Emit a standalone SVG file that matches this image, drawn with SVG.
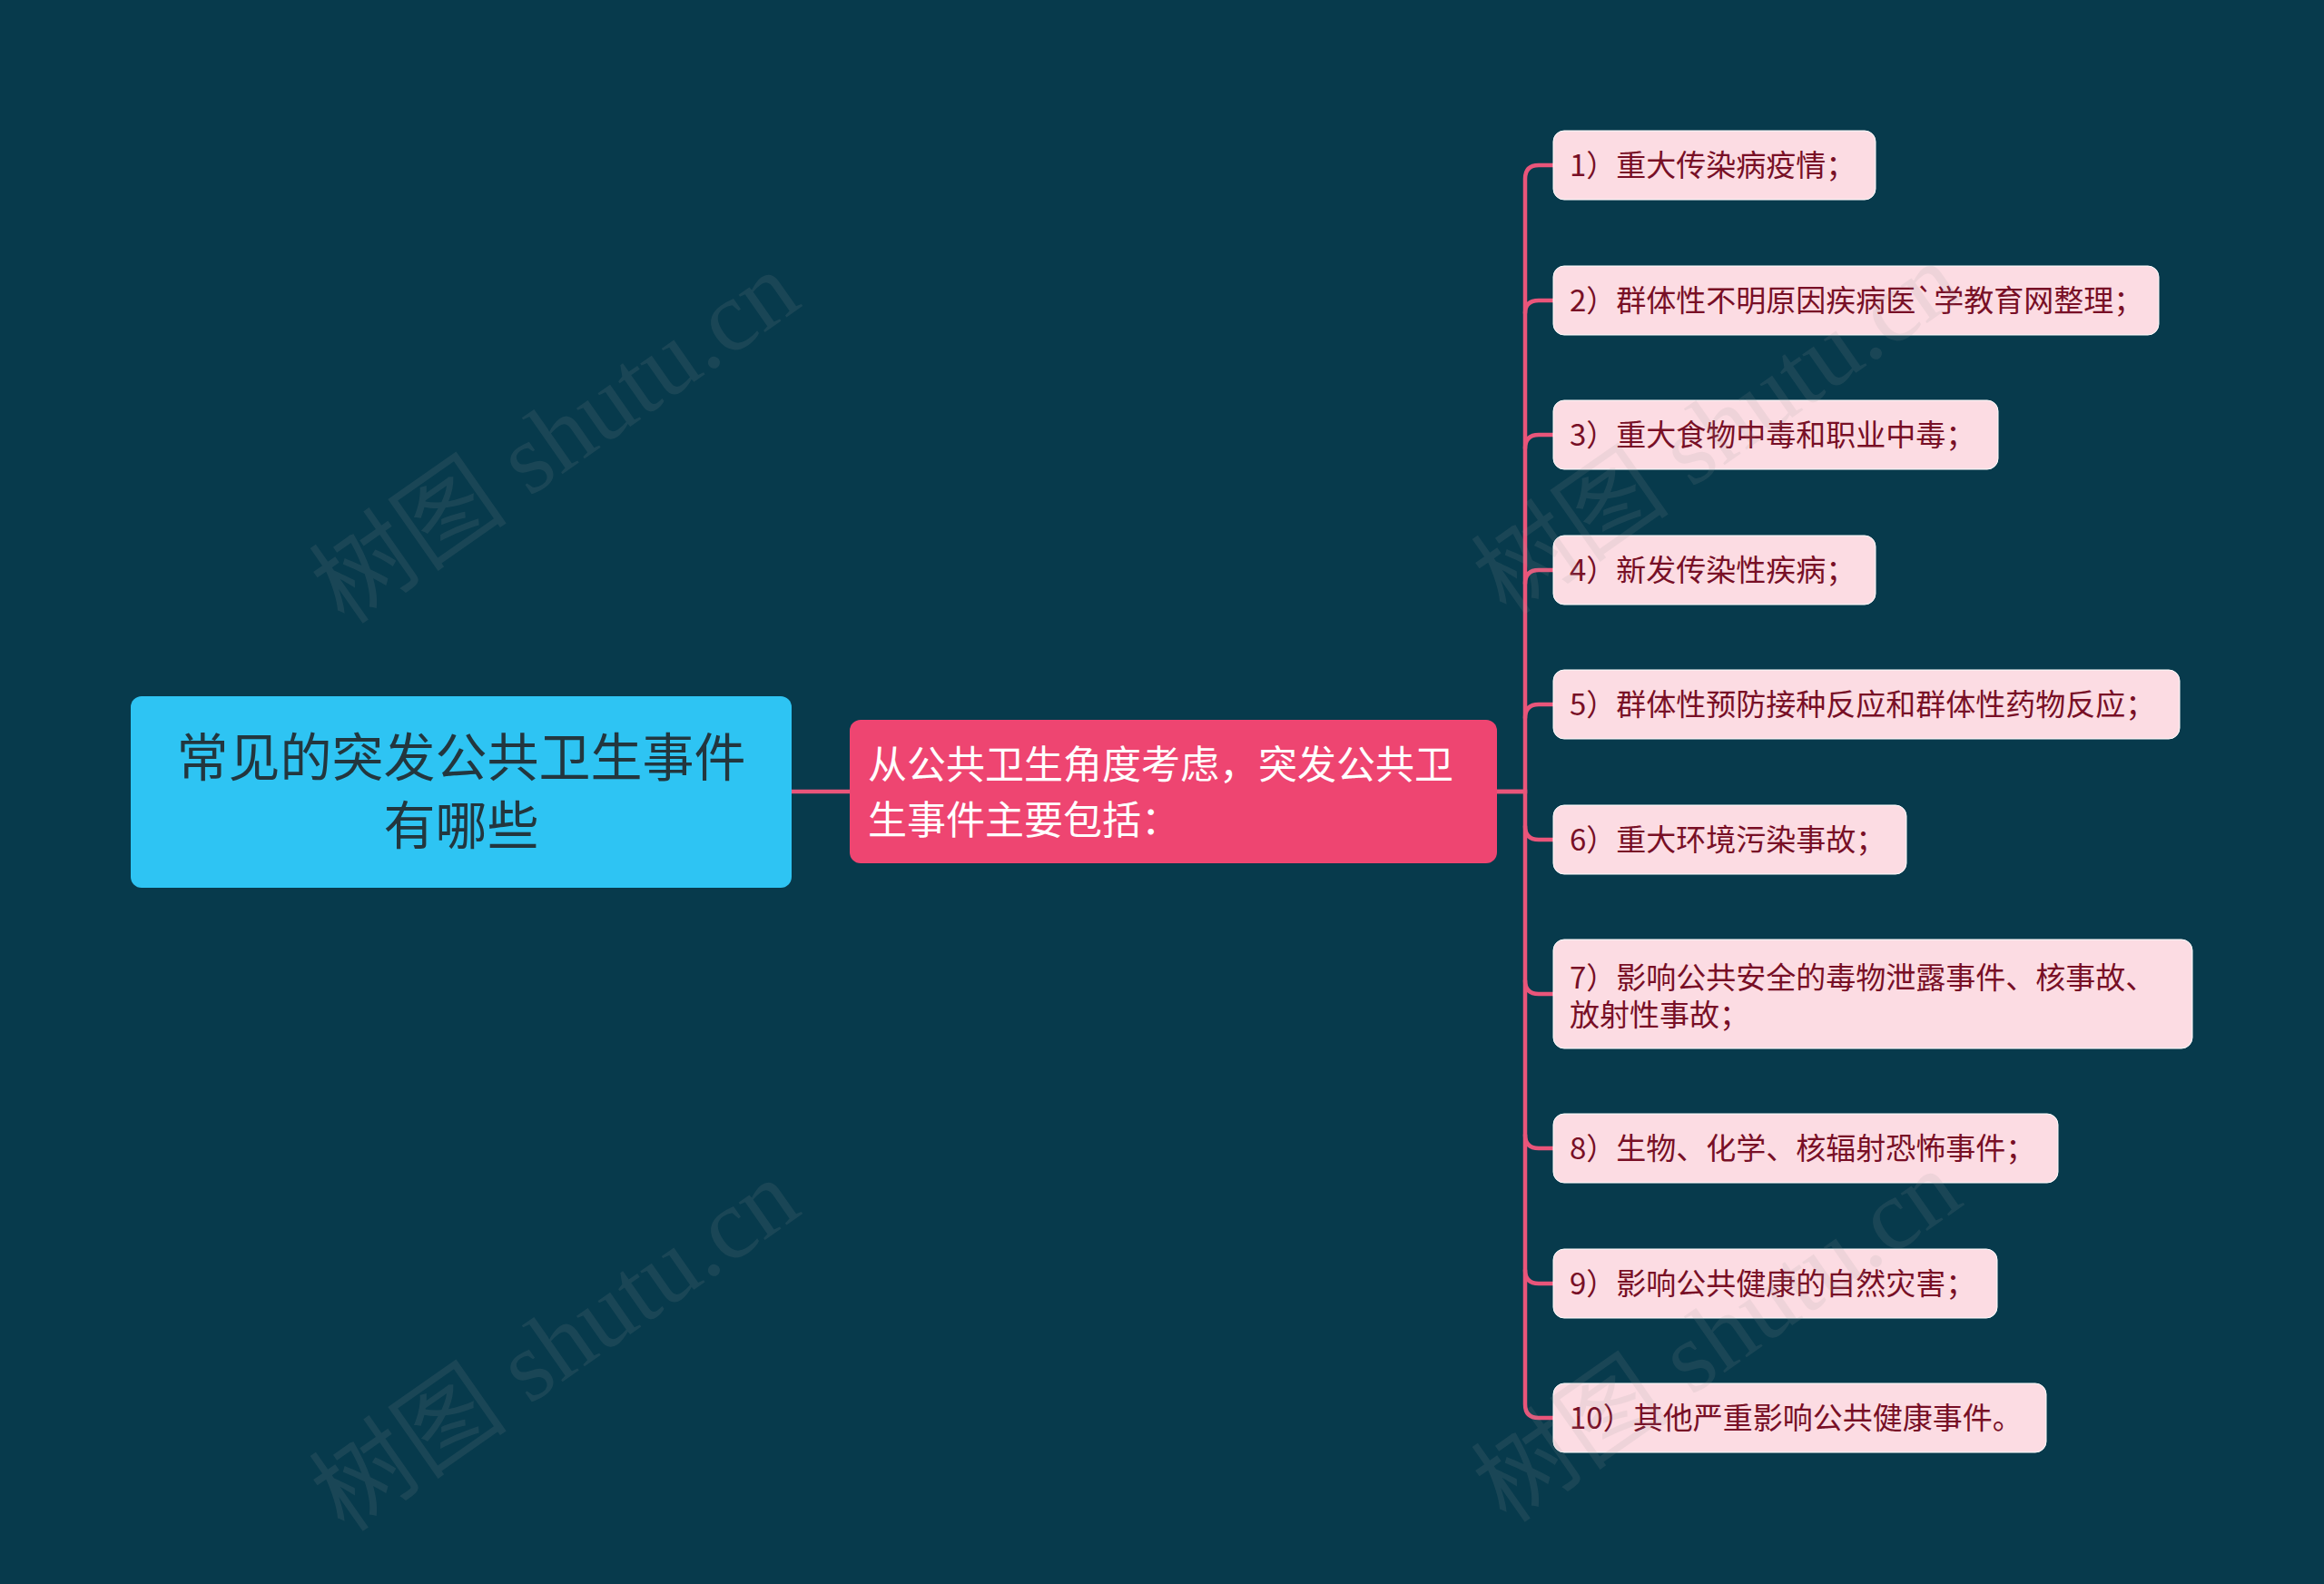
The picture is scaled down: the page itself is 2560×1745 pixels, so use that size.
<svg xmlns="http://www.w3.org/2000/svg" width="2560" height="1745" viewBox="0 0 2560 1745">
<defs>
<style>
.bg{fill:#073a4c}
.root rect{fill:#2ec4f3}
.root text{fill:#23363e;font-size:57px;text-anchor:middle}
.mid rect{fill:#ee4571}
.mid text{fill:#ffffff;font-size:43px}
.leaf rect{fill:#fcdce3;stroke:#ffffff;stroke-width:1}
.leaf text{fill:#780f26;font-size:33px}
text{font-family:"Microsoft YaHei","Noto Sans CJK SC","Noto Sans",sans-serif}
.conn path{fill:none;stroke:#e9557a;stroke-width:4.5;stroke-linecap:round}
.wm{font-family:"Liberation Serif","Noto Sans CJK SC",serif;font-size:110px;fill:#9a9a9a;opacity:0.13}
</style>
</defs>
<rect class="bg" x="0" y="0" width="2560" height="1745"/>

<g id="connectors" class="conn">
<path d="M872,872 H936"/>
<path d="M1649,872 H1680 V197 Q1680,182 1695,182 H1711"/>
<path d="M1680,345 Q1680,331 1695,331 H1711"/>
<path d="M1680,494 Q1680,479 1695,479 H1711"/>
<path d="M1680,643 Q1680,628 1695,628 H1711"/>
<path d="M1680,791 Q1680,776 1695,776 H1711"/>
<path d="M1649,872 H1680 V1547 Q1680,1562 1695,1562 H1711"/>
<path d="M1680,910 Q1680,925 1695,925 H1711"/>
<path d="M1680,1080 Q1680,1095 1695,1095 H1711"/>
<path d="M1680,1250 Q1680,1265 1695,1265 H1711"/>
<path d="M1680,1399 Q1680,1414 1695,1414 H1711"/>
</g>

<g id="root" class="root">
<rect x="144" y="767" width="728" height="211" rx="12"/>
<text x="508" y="855">常见的突发公共卫生事件</text>
<text x="508" y="930">有哪些</text>
</g>

<g id="mid" class="mid">
<rect x="936" y="793" width="713" height="158" rx="12"/>
<text x="956" y="858">从公共卫生角度考虑，突发公共卫</text>
<text x="956" y="919">生事件主要包括：</text>
</g>

<g id="n1" class="leaf"><rect x="1711" y="144" width="355" height="76" rx="12"/><text x="1729" y="194">1）重大传染病疫情；</text></g>
<g id="n2" class="leaf"><rect x="1711" y="293" width="667" height="76" rx="12"/><text x="1729" y="343">2）群体性不明原因疾病医`学教育网整理；</text></g>
<g id="n3" class="leaf"><rect x="1711" y="441" width="490" height="76" rx="12"/><text x="1729" y="491">3）重大食物中毒和职业中毒；</text></g>
<g id="n4" class="leaf"><rect x="1711" y="590" width="355" height="76" rx="12"/><text x="1729" y="640">4）新发传染性疾病；</text></g>
<g id="n5" class="leaf"><rect x="1711" y="738" width="690" height="76" rx="12"/><text x="1729" y="788">5）群体性预防接种反应和群体性药物反应；</text></g>
<g id="n6" class="leaf"><rect x="1711" y="887" width="389" height="76" rx="12"/><text x="1729" y="937">6）重大环境污染事故；</text></g>
<g id="n7" class="leaf"><rect x="1711" y="1035" width="704" height="120" rx="12"/><text x="1729" y="1089">7）影响公共安全的毒物泄露事件、核事故、</text><text x="1729" y="1130">放射性事故；</text></g>
<g id="n8" class="leaf"><rect x="1711" y="1227" width="556" height="76" rx="12"/><text x="1729" y="1277">8）生物、化学、核辐射恐怖事件；</text></g>
<g id="n9" class="leaf"><rect x="1711" y="1376" width="489" height="76" rx="12"/><text x="1729" y="1426">9）影响公共健康的自然灾害；</text></g>
<g id="n10" class="leaf"><rect x="1711" y="1524" width="543" height="76" rx="12"/><text x="1729" y="1574">10）其他严重影响公共健康事件。</text></g>

<g id="watermarks">
<text class="wm" transform="translate(380,690) rotate(-35)">树图 shutu.cn</text>
<text class="wm" transform="translate(380,1690) rotate(-35)">树图 shutu.cn</text>
<text class="wm" transform="translate(1660,680) rotate(-35)">树图 shutu.cn</text>
<text class="wm" transform="translate(1660,1680) rotate(-35)">树图 shutu.cn</text>
</g>
</svg>
